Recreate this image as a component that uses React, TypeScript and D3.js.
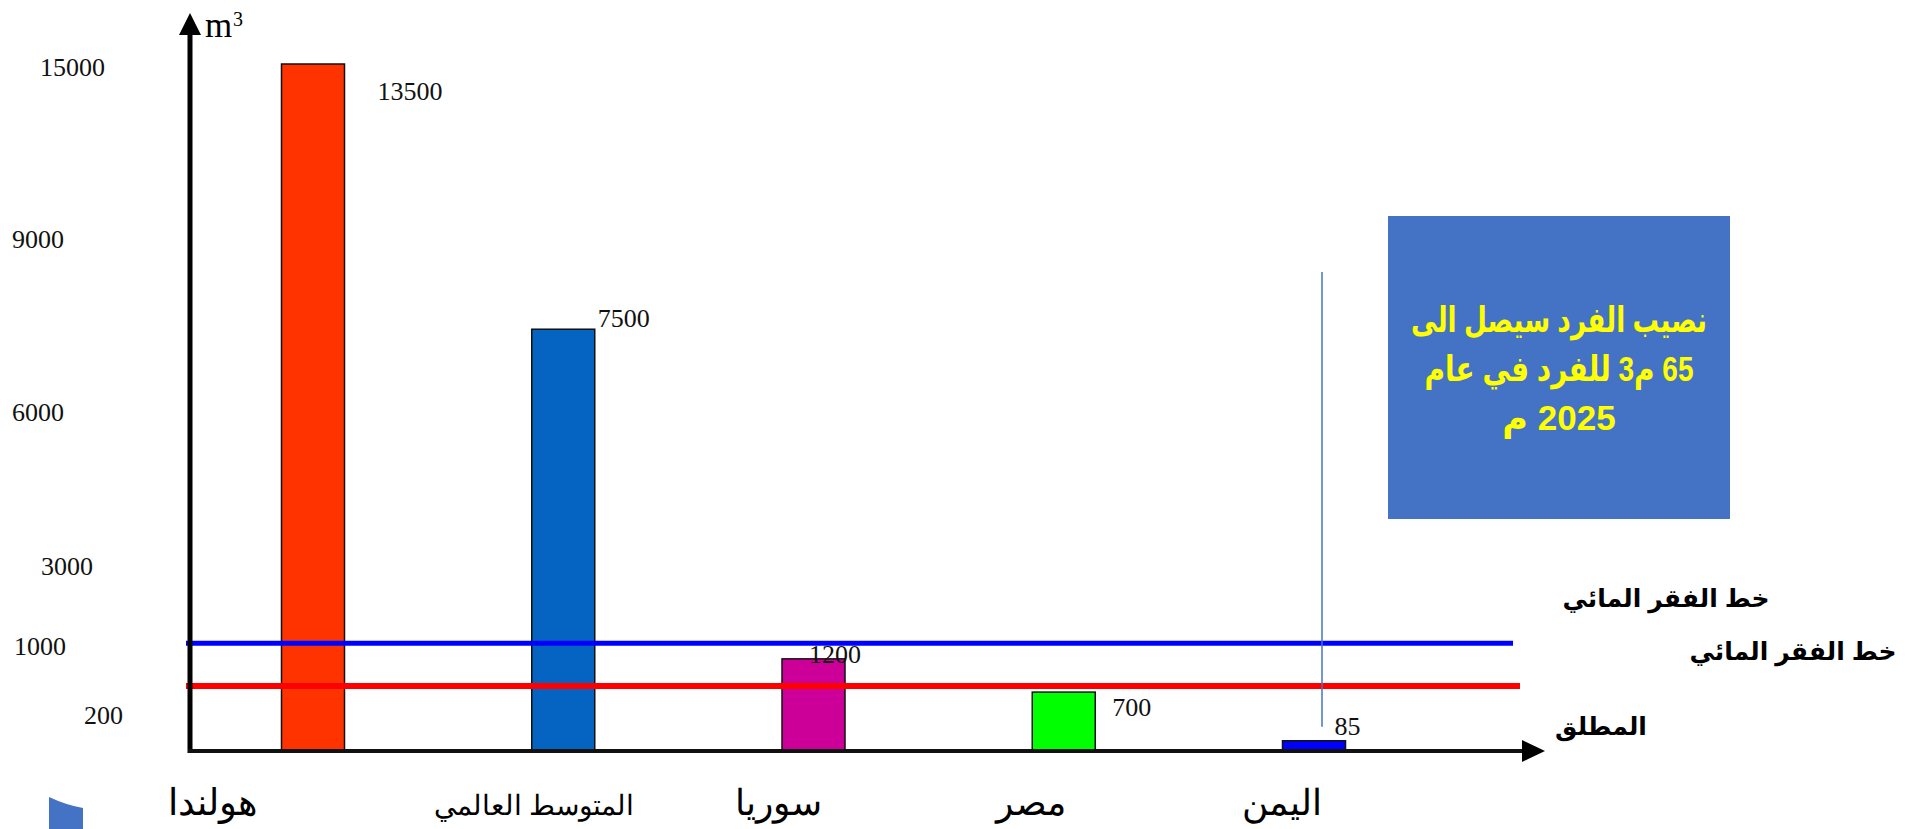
import * as React from "react";
import * as d3 from "d3";

// bars: water share per person (m3 / year)
const countries = ["هولندا", "المتوسط العالمي", "سوريا", "مصر", "اليمن"];
const shares = [13500, 7500, 1200, 700, 85];
const barColors = ["#FF3300", "#0563C1", "#CC0099", "#00FF00", "#0000FF"];

// labels written on the left of the vertical axis
const yTicks = [200, 1000, 3000, 6000, 9000, 15000];

// water poverty lines
const povertyLevels = [1000, 500];
const povertyColors = ["#0000FF", "#FF0000"];
const povertyTitle = "خط الفقر المائي";
const absoluteWord = "المطلق";

// note box
const noteLines = ["نصيب الفرد سيصل الى", "65 م3 للفرد في عام", "2025 م"];
const unitLabel = "m";
const unitPower = "3";

class WaterShareChart extends React.Component {
    _rootNode: any;

    componentDidMount() {
        this.drawChart();
    }

    drawChart() {
        let options = {
            width: 1919,
            height: 829,
            axisX: 190,
            baseY: 751,
            axisTop: 64,
            barTop: 64,
            xStart: 313,
            xEnd: 1314,
            barWidth: 63,
            xAxisEnd: 1545,
            serif: "'Liberation Serif', 'Times New Roman', serif",
            sans: "'Liberation Sans', Arial, 'DejaVu Sans', sans-serif"
        };

        // the tick labels were placed by hand on the slide, so the axis is piecewise
        let tickSpots = [0, 0.057, 0.157, 0.274, 0.498, 0.75, 1];
        let tickLabelX = [84, 14, 41, 12, 12, 40];
        // nudges for texts around the bars (dx from bar right, dy from bar top)
        let valueNudge = [[33, 36], [3, -2], [-36, 4], [17, 24], [-11, -6]];
        let nameNudge = [-100, -29, -35, -33, -32];
        let nameSize = [37, 28, 36, 36, 36];
        // widths of the note lines in the box
        let noteWidth = [296, 269, 0];

        let yAxisScale = d3.scaleLinear()
            .domain([0].concat(yTicks))
            .range(tickSpots.map(f => options.baseY - f * (options.baseY - options.axisTop)));

        // bars were drawn on their own (compressed) scale
        let yBar = d3.scalePow()
            .exponent(0.83)
            .domain([0, d3.max(shares)])
            .range([options.baseY, options.barTop]);

        let xScale = d3.scalePoint()
            .domain(countries)
            .range([options.xStart, options.xEnd]);

        let svg = d3.select(this._rootNode)
            .append("svg")
            .attr("width", options.width)
            .attr("height", options.height)
            .style("position", "absolute")
            .style("left", 0)
            .style("top", 0)
            .style("background", "#fff");

        let data = countries.map((c, i) => ({name: c, value: shares[i], color: barColors[i], i: i}));

        svg.selectAll("rect.bar")
            .data(data)
            .enter()
            .append("rect")
            .classed("bar", true)
            .attr("x", d => xScale(d.name) - options.barWidth / 2)
            .attr("y", d => yBar(d.value))
            .attr("width", options.barWidth)
            .attr("height", d => options.baseY - yBar(d.value))
            .style("fill", d => d.color)
            .style("stroke", "#111")
            .style("stroke-width", 1.5);

        // value labels
        svg.selectAll("text.value")
            .data(data)
            .enter()
            .append("text")
            .classed("value", true)
            .attr("x", d => xScale(d.name) + options.barWidth / 2 + valueNudge[d.i][0])
            .attr("y", d => yBar(d.value) + valueNudge[d.i][1])
            .style("font-family", options.serif)
            .style("font-size", "26px")
            .style("fill", "#111")
            .text(d => d.value);

        // country names
        svg.selectAll("text.name")
            .data(data)
            .enter()
            .append("text")
            .classed("name", true)
            .attr("x", d => xScale(d.name) + nameNudge[d.i])
            .attr("y", 815)
            .attr("text-anchor", "middle")
            .attr("direction", "rtl")
            .style("font-family", options.serif)
            .style("font-size", d => nameSize[d.i] + "px")
            .style("fill", "#000")
            .text(d => d.name);

        // poverty lines over the bars
        svg.selectAll("line.poverty")
            .data(povertyLevels)
            .enter()
            .append("line")
            .classed("poverty", true)
            .attr("x1", options.axisX - 4)
            .attr("x2", (d, i) => 1513 + i * 7)
            .attr("y1", d => yAxisScale(d))
            .attr("y2", d => yAxisScale(d))
            .style("stroke", (d, i) => povertyColors[i])
            .style("stroke-width", (d, i) => 5 + i);

        // axes
        svg.append("line")
            .attr("x1", options.axisX).attr("x2", options.axisX)
            .attr("y1", options.baseY + 2).attr("y2", 30)
            .style("stroke", "#000").style("stroke-width", 5);
        svg.append("path")
            .attr("d", d3.line()([[options.axisX - 11, 35], [options.axisX + 11, 35], [options.axisX, 13]]) + "Z")
            .style("fill", "#000");
        svg.append("line")
            .attr("x1", options.axisX - 2).attr("x2", options.xAxisEnd - 20)
            .attr("y1", options.baseY).attr("y2", options.baseY)
            .style("stroke", "#111").style("stroke-width", 4);
        svg.append("path")
            .attr("d", d3.line()([[options.xAxisEnd - 23, options.baseY - 11], [options.xAxisEnd - 23, options.baseY + 11], [options.xAxisEnd, options.baseY]]) + "Z")
            .style("fill", "#000");

        // tick labels
        svg.selectAll("text.tick")
            .data(yTicks)
            .enter()
            .append("text")
            .classed("tick", true)
            .attr("x", (d, i) => tickLabelX[i])
            .attr("y", d => yAxisScale(d) + 3)
            .attr("dy", "0.35em")
            .style("font-family", options.serif)
            .style("font-size", "26px")
            .style("fill", "#111")
            .text(d => d);

        // unit
        svg.append("text")
            .attr("x", 205).attr("y", 37)
            .style("font-family", options.serif)
            .style("font-size", "35px")
            .text(unitLabel);
        svg.append("text")
            .attr("x", 233).attr("y", 26)
            .style("font-family", options.serif)
            .style("font-size", "20px")
            .text(unitPower);

        // labels of the poverty lines
        let blueY = yAxisScale(povertyLevels[0]);
        let redY = yAxisScale(povertyLevels[1]);
        let sideLabels = [
            {text: povertyTitle, x: 1666, y: blueY - 36},
            {text: povertyTitle, x: 1793, y: redY - 26},
            {text: absoluteWord, x: 1601, y: redY + 49}
        ];
        svg.selectAll("text.side")
            .data(sideLabels)
            .enter()
            .append("text")
            .classed("side", true)
            .attr("x", d => d.x)
            .attr("y", d => d.y)
            .attr("text-anchor", "middle")
            .attr("direction", "rtl")
            .style("font-family", options.sans)
            .style("font-weight", "bold")
            .style("font-size", "25px")
            .text(d => d.text);

        // note box and its pointer line
        let yemenX = xScale(countries[4]);
        svg.append("line")
            .attr("x1", yemenX + 8).attr("x2", yemenX + 8)
            .attr("y1", 272).attr("y2", yBar(shares[4]) - 14)
            .style("stroke", "#4472C4").style("stroke-width", 1.5);

        let box = svg.append("g").attr("transform", "translate(1388,216)");
        box.append("rect")
            .attr("width", 342).attr("height", 303)
            .style("fill", "#4472C4");
        let notes = box.selectAll("text")
            .data(noteLines)
            .enter()
            .append("text")
            .attr("x", 171)
            .attr("y", (d, i) => 116 + i * 49)
            .attr("text-anchor", "middle")
            .attr("direction", "rtl")
            .style("font-family", options.sans)
            .style("font-weight", "bold")
            .style("font-size", "35px")
            .style("fill", "#FFFF00")
            .text(d => d);
        notes.filter((d, i) => noteWidth[i] > 0)
            .attr("textLength", (d, i) => noteWidth[i])
            .attr("lengthAdjust", "spacingAndGlyphs");

        // piece of a slide shape in the lower left corner
        svg.append("path")
            .attr("d", "M49,797 Q66,805 83,808 L83,829 L49,829 Z")
            .style("fill", "#4472C4");
    }

    shouldComponentUpdate() {
        return false;
    }

    _setRef(componentNode) {
        this._rootNode = componentNode;
    }

    render() {
        return <div ref={this._setRef.bind(this)}/>;
    }
}

export default function App() {
    return <WaterShareChart/>;
}
